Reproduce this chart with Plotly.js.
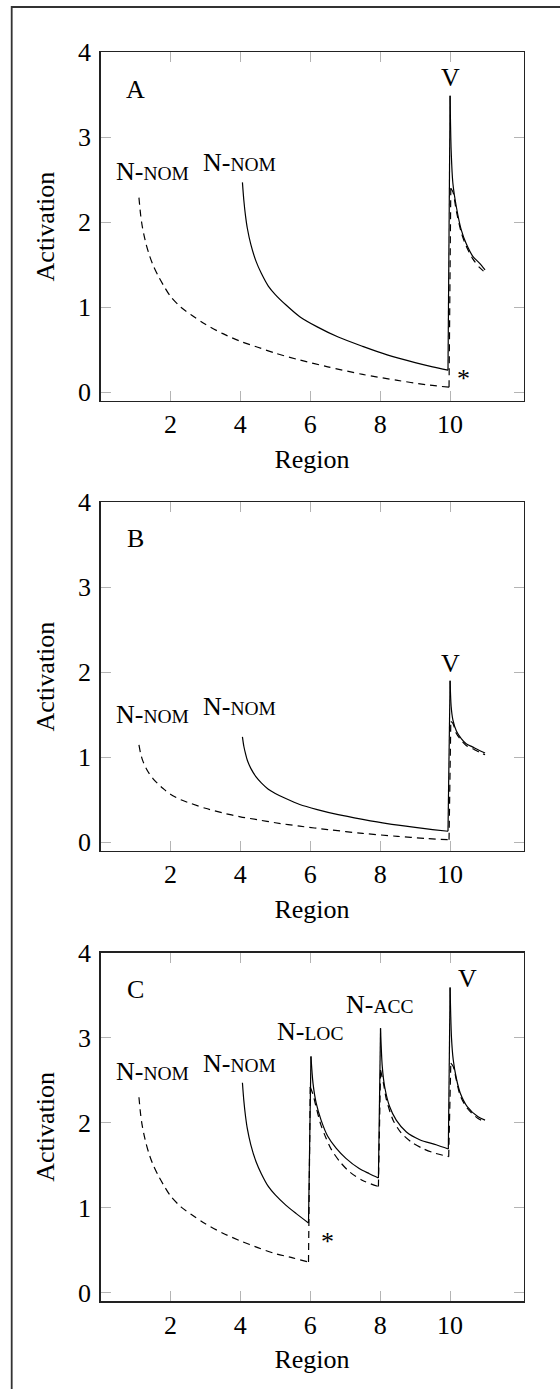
<!DOCTYPE html>
<html>
<head>
<meta charset="utf-8">
<script src="https://cdn.plot.ly/plotly-3.0.1.min.js"></script>
<style>html,body{margin:0;padding:0;background:#fff;}#chart{width:560px;height:1389px;}</style>
</head>
<body>
<div id="chart"></div>
<script>
// ---------- data ----------
const xTickVals = [2, 4, 6, 8, 10];
const xTickText = ['2', '4', '6', '8', '10'];
const yTickVals = [0, 1, 2, 3, 4];
const yTickText = ['0', '1', '2', '3', '4'];

// Panel A
const xA_dashed = [1.1,1.15,1.2,1.3,1.4,1.5,1.65,1.8,2.0,2.3,2.6,3.0,3.5,4.0,4.5,5.0,5.7,6.5,7.5,8.5,9.3,9.97,10.02,10.08,10.18,10.32,10.46,10.65,10.84,11.0];
const yA_dashed = [2.29,2.08,1.94,1.75,1.61,1.50,1.37,1.26,1.13,1.00,0.91,0.80,0.69,0.60,0.53,0.46,0.38,0.30,0.21,0.14,0.09,0.06,2.40,2.36,2.13,1.88,1.72,1.57,1.47,1.41];
const xA_solid = [4.06,4.1,4.15,4.2,4.3,4.45,4.6,4.8,5.0,5.3,5.7,6.2,6.8,7.5,8.2,9.0,9.5,9.94,10.0,10.03,10.08,10.18,10.32,10.46,10.65,10.84,11.0];
const yA_solid = [2.47,2.26,2.07,1.93,1.74,1.54,1.40,1.25,1.15,1.03,0.89,0.77,0.65,0.54,0.44,0.35,0.30,0.26,3.49,2.85,2.46,2.18,1.91,1.75,1.60,1.52,1.44];

// Panel B
const xB_dashed = [1.1,1.15,1.2,1.3,1.4,1.5,1.65,1.8,2.0,2.3,2.6,3.0,3.5,4.0,4.5,5.0,5.7,6.5,7.5,8.5,9.3,9.97,10.02,10.08,10.18,10.32,10.46,10.65,10.84,11.0];
const yB_dashed = [1.145,1.04,0.97,0.875,0.805,0.75,0.685,0.63,0.565,0.50,0.455,0.40,0.345,0.30,0.265,0.23,0.19,0.15,0.105,0.07,0.045,0.03,1.42,1.40,1.28,1.20,1.14,1.10,1.06,1.03];
const xB_solid = [4.06,4.1,4.15,4.2,4.3,4.45,4.6,4.8,5.0,5.3,5.7,6.2,6.8,7.5,8.2,9.0,9.5,9.94,10.0,10.03,10.08,10.18,10.32,10.46,10.65,10.84,11.0];
const yB_solid = [1.24,1.13,1.04,0.965,0.87,0.77,0.70,0.625,0.575,0.515,0.445,0.385,0.325,0.27,0.22,0.175,0.15,0.13,1.90,1.60,1.44,1.31,1.22,1.16,1.12,1.08,1.05];

// Panel C
const xC_dashed = [1.1,1.15,1.2,1.3,1.4,1.5,1.65,1.8,2.0,2.3,2.6,3.0,3.5,4.0,4.5,5.0,5.5,5.95,6.0,6.08,6.17,6.3,6.45,6.61,6.85,7.13,7.5,7.95,8.01,8.1,8.18,8.37,8.6,8.9,9.2,9.5,9.96,10.02,10.09,10.18,10.29,10.49,10.8,11.0];
const yC_dashed = [2.30,2.09,1.95,1.76,1.62,1.51,1.38,1.27,1.14,1.01,0.92,0.81,0.70,0.61,0.53,0.46,0.41,0.36,2.42,2.33,2.18,1.98,1.82,1.68,1.54,1.42,1.32,1.25,2.62,2.45,2.27,2.03,1.88,1.77,1.70,1.65,1.60,2.70,2.66,2.50,2.32,2.17,2.05,2.01];
const xC_solid = [4.06,4.1,4.15,4.2,4.3,4.45,4.6,4.8,5.0,5.3,5.6,5.95,6.02,6.08,6.17,6.31,6.5,6.74,7.02,7.4,7.69,7.95,8.01,8.06,8.13,8.27,8.46,8.75,9.13,9.6,9.95,10.0,10.04,10.09,10.18,10.29,10.49,10.8,11.0];
const yC_solid = [2.47,2.26,2.07,1.93,1.74,1.54,1.40,1.25,1.15,1.03,0.93,0.82,2.78,2.46,2.23,2.03,1.84,1.70,1.58,1.46,1.40,1.35,3.11,2.66,2.42,2.19,2.03,1.89,1.80,1.74,1.69,3.59,3.00,2.74,2.52,2.35,2.19,2.07,2.03];

// ---------- layout helpers ----------
const W = 560, H = 1389;
const FONT = 'Liberation Serif, Times New Roman, serif';
const FS = 26;
const plotLeft = 100.5, plotRight = 523.5, plotH = 348.5;
const panelTops = [52.3, 502.3, 952.7];

function fx(px) { return px / W; }
function fy(py) { return 1 - py / H; }

// split a series into smooth decay segments joined by straight jumps
function seriesTraces(xs, ys, dashed, xa, ya) {
  const line = function (shape) {
    return { color: '#000', width: 1.2, dash: dashed ? '7px,5px' : 'solid', shape: shape, smoothing: 0.8 };
  };
  const out = [];
  let cur = { x: [xs[0]], y: [ys[0]] };
  for (let i = 1; i < xs.length; i++) {
    if (ys[i] > ys[i - 1] + 0.3) {
      out.push({ x: cur.x, y: cur.y, shape: 'spline' });
      out.push({ x: [xs[i - 1], xs[i]], y: [ys[i - 1], ys[i]], shape: 'linear' });
      cur = { x: [xs[i]], y: [ys[i]] };
    } else {
      cur.x.push(xs[i]); cur.y.push(ys[i]);
    }
  }
  out.push({ x: cur.x, y: cur.y, shape: 'spline' });
  return out.map(function (s) {
    return {
      x: s.x, y: s.y, type: 'scatter', mode: 'lines', xaxis: xa, yaxis: ya,
      hoverinfo: 'skip', showlegend: false, line: line(s.shape)
    };
  });
}

const data = [].concat(
  seriesTraces(xA_dashed, yA_dashed, true, 'x', 'y'),
  seriesTraces(xA_solid, yA_solid, false, 'x', 'y'),
  seriesTraces(xB_dashed, yB_dashed, true, 'x2', 'y2'),
  seriesTraces(xB_solid, yB_solid, false, 'x2', 'y2'),
  seriesTraces(xC_dashed, yC_dashed, true, 'x3', 'y3'),
  seriesTraces(xC_solid, yC_solid, false, 'x3', 'y3')
);

function xAxis(anchor) {
  return {
    domain: [fx(plotLeft), fx(plotRight)], anchor: anchor, range: [0, 12.1],
    tickmode: 'array', tickvals: xTickVals, ticktext: xTickText,
    ticks: 'inside', ticklen: 10, tickwidth: 1, tickcolor: '#b4b4b4',
    showline: true, linecolor: '#222', linewidth: 1.3, mirror: 'ticks',
    showgrid: false, zeroline: false, fixedrange: true, automargin: false,
    tickfont: { family: FONT, size: FS, color: '#000' },
    title: { text: 'Region', font: { family: FONT, size: FS, color: '#000' }, standoff: 11 }
  };
}
function yAxis(anchor, i) {
  const top = panelTops[i], bot = top + plotH;
  return {
    domain: [fy(bot), fy(top)], anchor: anchor, range: [-0.1, 4],
    tickmode: 'array', tickvals: yTickVals, ticktext: yTickText,
    ticks: 'inside', ticklen: 10, tickwidth: 1, tickcolor: '#b4b4b4',
    showline: true, linecolor: '#222', linewidth: 1.3, mirror: 'ticks',
    showgrid: false, zeroline: false, fixedrange: true, automargin: false,
    ticklabelstandoff: 3,
    tickfont: { family: FONT, size: FS, color: '#000' },
    title: { text: 'Activation', font: { family: FONT, size: FS, color: '#000' }, standoff: 16 }
  };
}

function small(t) { return '<span style="font-size:19.5px">' + t + '</span>'; }
function ann(xref, yref, x, y, text, size) {
  return {
    xref: xref, yref: yref, x: x, y: y, text: text, showarrow: false,
    xanchor: 'center', yanchor: 'middle',
    font: { family: FONT, size: size || FS, color: '#000' }
  };
}

const annotations = [
  // Panel A
  ann('x', 'y', 1.0, 3.56, 'A'),
  ann('x', 'y', 1.5, 2.60, 'N-' + small('NOM')),
  ann('x', 'y', 3.97, 2.70, 'N-' + small('NOM')),
  ann('x', 'y', 10.0, 3.70, 'V'),
  ann('x', 'y', 10.39, 0.16, '*'),
  // Panel B
  ann('x2', 'y2', 1.0, 3.57, 'B'),
  ann('x2', 'y2', 1.5, 1.50, 'N-' + small('NOM')),
  ann('x2', 'y2', 3.97, 1.60, 'N-' + small('NOM')),
  ann('x2', 'y2', 10.0, 2.10, 'V'),
  // Panel C
  ann('x3', 'y3', 1.0, 3.57, 'C'),
  ann('x3', 'y3', 1.5, 2.60, 'N-' + small('NOM')),
  ann('x3', 'y3', 3.97, 2.70, 'N-' + small('NOM')),
  ann('x3', 'y3', 6.0, 3.07, 'N-' + small('LOC')),
  ann('x3', 'y3', 8.0, 3.39, 'N-' + small('ACC')),
  ann('x3', 'y3', 10.5, 3.70, 'V'),
  ann('x3', 'y3', 6.5, 0.60, '*')
];

const layout = {
  width: W, height: H,
  margin: { l: 0, r: 0, t: 0, b: 0, pad: 0 },
  paper_bgcolor: '#fff', plot_bgcolor: '#fff',
  showlegend: false,
  font: { family: FONT, size: FS, color: '#000' },
  xaxis: xAxis('y'), yaxis: yAxis('x', 0),
  xaxis2: xAxis('y2'), yaxis2: yAxis('x2', 1),
  xaxis3: xAxis('y3'), yaxis3: yAxis('x3', 2),
  annotations: annotations,
  shapes: [{
    type: 'path', xref: 'paper', yref: 'paper',
    path: 'M ' + fx(11.7) + ' ' + fy(H + 5) + ' L ' + fx(11.7) + ' ' + fy(7) + ' L ' + fx(W + 5) + ' ' + fy(7),
    line: { color: '#333', width: 1.8 }
  }]
};

Plotly.newPlot('chart', data, layout, { displayModeBar: false, staticPlot: true });
</script>
</body>
</html>
